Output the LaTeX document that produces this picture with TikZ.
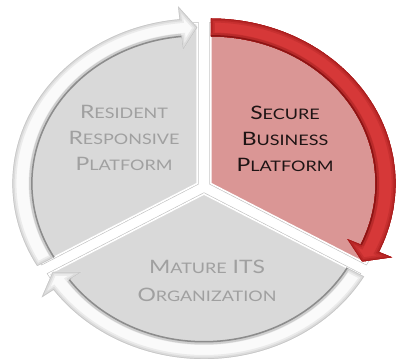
\documentclass[tikz,border=0pt]{standalone}
\usepackage{fontspec}
\setmainfont{Lato}

% outline of one curved cycle arrow: tail angle #1, tip angle #2 (clockwise)
\newcommand\arrowshape[2]{(#1:165) arc[start angle=#1,end angle=#2+5.5,radius=165]
  -- ({#2+5.5}:178) -- (#2:156) -- ({#2+5.5}:134) -- ({#2+5.5}:147)
  arc[start angle=#2+5.5,end angle=#1,radius=147] -- cycle}

% wedge of one sector, from angle #1 to angle #2
\newcommand\wedgeshape[2]{(0,0) -- (#1:160) arc[start angle=#1,end angle=#2,radius=160] -- cycle}

% bevelled arrow: tail, tip, body colour, rim colour, inner-edge colour
\newcommand\drawcyclearrow[5]{%
  \begin{scope}
    \clip \arrowshape{#1}{#2};
    \fill[#3] \arrowshape{#1}{#2};
    \draw[line width=8,#4!30!#3] \arrowshape{#1}{#2};
    \draw[line width=4.5,#4!60!#3] \arrowshape{#1}{#2};
    \draw[line width=1.4,#4] \arrowshape{#1}{#2};
    \draw[line width=7,#5!40!#3] (#1:147) arc[start angle=#1,end angle=#2+5.5,radius=147];
    \draw[line width=3,#5] (#1:147) arc[start angle=#1,end angle=#2+5.5,radius=147];
  \end{scope}}

% sector fill with a white rim and a faint grey line outside it
\newcommand\drawsector[3]{%
  \draw[line width=2.8,black!25] \wedgeshape{#1}{#2};
  \filldraw[fill=#3,draw=white,line width=1.6] \wedgeshape{#1}{#2};}

% small-capital word: large initial, smaller remaining letters
\newcommand\capsc[2]{{\fontsize{18.5}{26}\selectfont#1}{\fontsize{14.5}{26}\selectfont#2}}

\definecolor{grayfill}{RGB}{217,217,217}
\definecolor{pinkfill}{RGB}{218,150,149}
\definecolor{arrowwhite}{RGB}{250,250,250}
\definecolor{arrowrim}{RGB}{200,200,200}
\definecolor{arrowinner}{RGB}{140,140,140}
\definecolor{arrowred}{RGB}{214,56,56}
\definecolor{arrowredrim}{RGB}{165,28,28}
\definecolor{arrowredinner}{RGB}{140,20,20}
\definecolor{labelgray}{RGB}{160,160,160}
\definecolor{labeldark}{RGB}{30,20,20}

\begin{document}
\begin{tikzpicture}[x=1pt,y=1pt,
  label/.style={align=center,inner sep=0pt,xscale=1.24},
  graylabel/.style={label,text=labelgray},
  darklabel/.style={label,text=labeldark}]
\useasboundingbox (0,0) rectangle (398,363);

\begin{scope}[shift={(204,176)},xscale=1.12]
  % sector fills
  \begin{scope}[shift={(150:7)}]
    \drawsector{90}{210}{grayfill}
  \end{scope}
  \begin{scope}[shift={(30:7)}]
    \drawsector{-30}{90}{pinkfill}
  \end{scope}
  \begin{scope}[shift={(270:7)}]
    \drawsector{210}{330}{grayfill}
  \end{scope}
  % cycle arrows along the rims
  \begin{scope}[shift={(150:7)}]
    \drawcyclearrow{210}{90}{arrowwhite}{arrowrim}{arrowinner}
  \end{scope}
  \begin{scope}[shift={(30:7)}]
    \drawcyclearrow{90}{-30}{arrowred}{arrowredrim}{arrowredinner}
  \end{scope}
  \begin{scope}[shift={(270:7)}]
    \drawcyclearrow{330}{210}{arrowwhite}{arrowrim}{arrowinner}
  \end{scope}
\end{scope}

\node[graylabel,font=\fontsize{18.5}{26}\selectfont] (rrp) at (124,225)
  {\capsc{R}{ESIDENT}\\\capsc{R}{ESPONSIVE}\\\capsc{P}{LATFORM}};
\node[darklabel,font=\fontsize{18.5}{26}\selectfont] (sbp) at (285,224)
  {\capsc{S}{ECURE}\\\capsc{B}{USINESS}\\\capsc{P}{LATFORM}};
\node[graylabel,font=\fontsize{18.5}{28}\selectfont] (mio) at (207,82)
  {\capsc{M}{ATURE} \capsc{ITS}{}\\\capsc{O}{RGANIZATION}};
\end{tikzpicture}
\end{document}
